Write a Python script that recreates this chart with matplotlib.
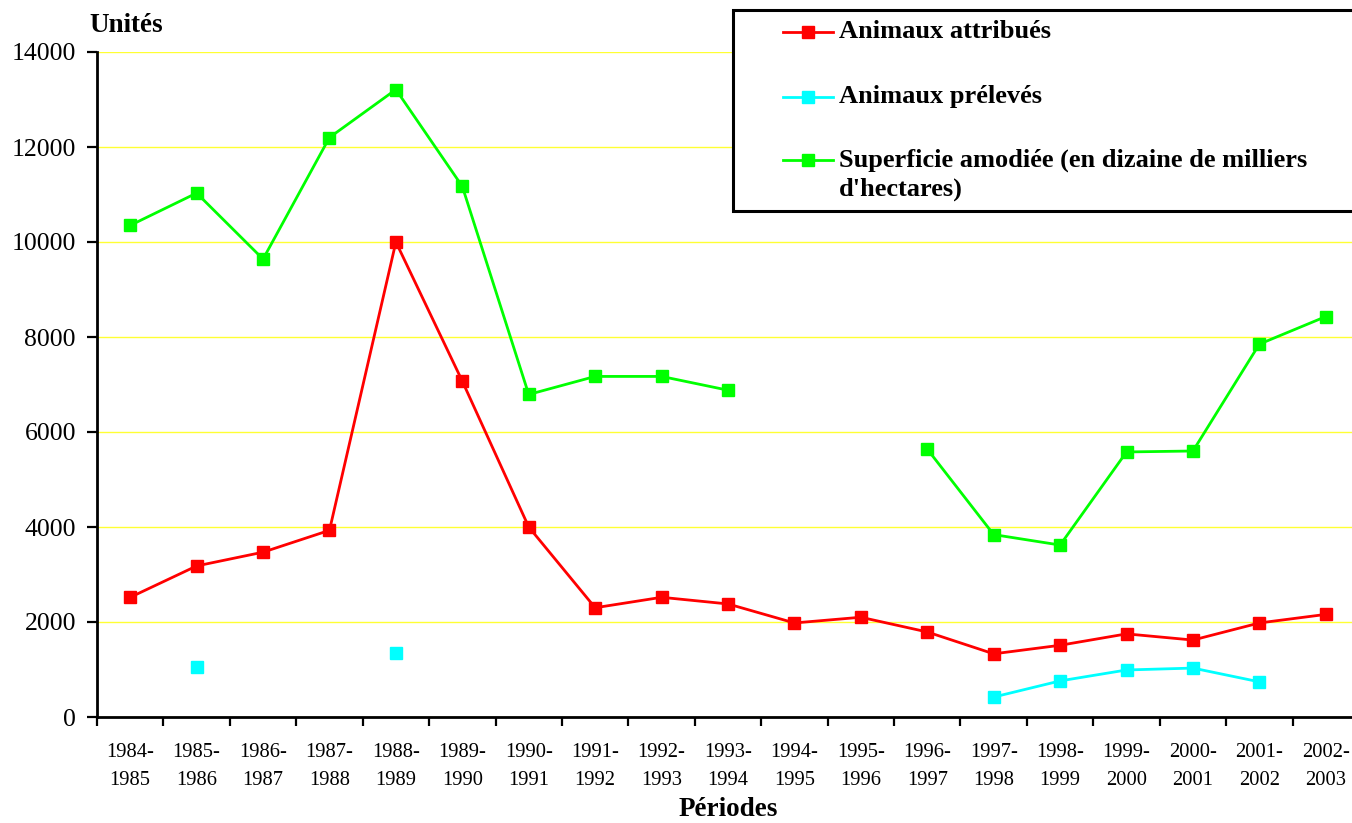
import numpy as np
import matplotlib
matplotlib.use("Agg")
import matplotlib.pyplot as plt
from matplotlib.lines import Line2D
from matplotlib.patches import Rectangle

periods = ["1984-\n1985", "1985-\n1986", "1986-\n1987", "1987-\n1988", "1988-\n1989",
           "1989-\n1990", "1990-\n1991", "1991-\n1992", "1992-\n1993", "1993-\n1994",
           "1994-\n1995", "1995-\n1996", "1996-\n1997", "1997-\n1998", "1998-\n1999",
           "1999-\n2000", "2000-\n2001", "2001-\n2002", "2002-\n2003"]

nan = np.nan
animaux_attribues = [2520, 3180, 3470, 3930, 10000, 7070, 4000, 2300, 2520, 2380,
                     1980, 2100, 1790, 1330, 1510, 1750, 1620, 1980, 2160]
animaux_preleves = [nan, 1050, nan, nan, 1340, nan, nan, nan, nan, nan,
                    nan, nan, nan, 420, 760, 990, 1030, 740, nan]
superficie = [10350, 11030, 9640, 12200, 13210, 11170, 6790, 7170, 7170, 6880,
              nan, nan, 5640, 3840, 3620, 5580, 5600, 7850, 8430]

series_labels = ["Animaux attribués", "Animaux prélevés",
                 "Superficie amodiée (en dizaine de milliers\nd'hectares)"]
series_colors = ["#ff0000", "#00ffff", "#00ff00"]
yticks = [0, 2000, 4000, 6000, 8000, 10000, 12000, 14000]

plt.rcParams['font.family'] = ['Liberation Serif', 'DejaVu Serif']

W, H = 1352, 823
fig = plt.figure(figsize=(W / 100, H / 100), dpi=100)
ax = fig.add_axes([97 / W, (H - 717) / H, (1359 - 97) / W, 665 / H])

x = np.arange(len(periods))
for vals, col in zip([animaux_attribues, animaux_preleves, superficie], series_colors):
    ax.plot(x, vals, color=col, lw=2.0, marker='s', markersize=9,
            markeredgecolor=col, clip_on=False, zorder=3)

ax.set_xlim(-0.5, len(periods) - 0.5)
ax.set_ylim(0, 14000)
ax.set_yticks(yticks)
ax.set_yticklabels([str(v) for v in yticks], fontsize=18.5)
ax.yaxis.grid(True, color='#ffff33', lw=1.0)
ax.set_axisbelow(True)

ax.set_xticks(np.arange(len(periods) + 1) - 0.5)
ax.set_xticklabels([])
ax.set_xticks(x, minor=True)
ax.set_xticklabels(periods, minor=True, fontsize=14.8, linespacing=1.6)
ax.tick_params(axis='x', which='major', length=6.5, width=1.6, direction='out')
ax.tick_params(axis='x', which='minor', length=0, pad=19)
ax.tick_params(axis='y', length=7.2, width=1.6, direction='out', pad=8)

for s in ['top', 'right']:
    ax.spines[s].set_visible(False)
for s in ['left', 'bottom']:
    ax.spines[s].set_linewidth(2)
    ax.spines[s].set_color('black')

fig.text(89 / W, 1 - 26 / H, "Unités", fontsize=19.5, fontweight='bold', va='center', ha='left')
fig.text(728 / W, 1 - 810 / H, "Périodes", fontsize=19.5, fontweight='bold', va='center', ha='center')

# Legend box
fig.patches.append(Rectangle((733 / W, 1 - 211 / H), (1365 - 733) / W, (211 - 10) / H,
                             transform=fig.transFigure, facecolor='white',
                             edgecolor='black', lw=2.2, zorder=5))
handle_y = [32, 97, 160]
text_y = [32, 97, 175]
for lab, col, hy, ty in zip(series_labels, series_colors, handle_y, text_y):
    yy = 1 - hy / H
    fig.lines.append(Line2D([783 / W, 833 / W], [yy, yy], transform=fig.transFigure,
                            color=col, lw=2.0, zorder=6))
    fig.lines.append(Line2D([808 / W], [yy], transform=fig.transFigure, color=col,
                            marker='s', markersize=9, zorder=6))
    fig.text(839 / W, 1 - ty / H, lab, fontsize=19, fontweight='bold', va='center',
             ha='left', zorder=7, linespacing=1.3)

fig.savefig("out.png", dpi=100)
